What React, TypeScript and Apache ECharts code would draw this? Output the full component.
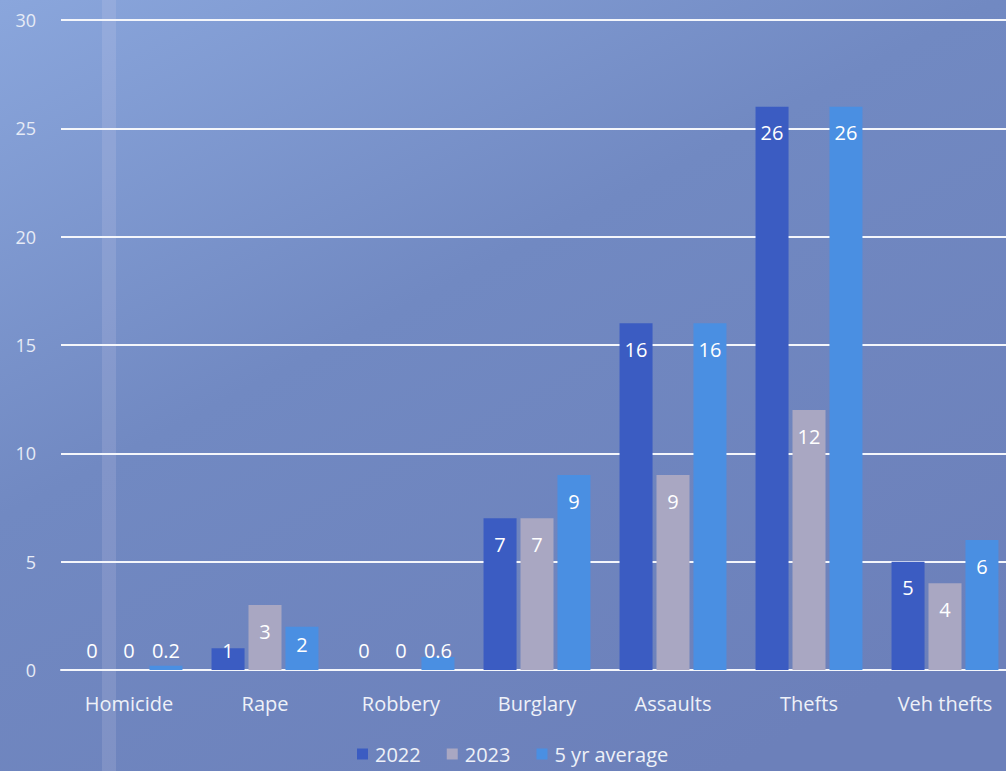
import React, { useEffect, useRef } from "react";
import * as echarts from "echarts";

const categories = ["Homicide", "Rape", "Robbery", "Burglary", "Assaults", "Thefts", "Veh thefts"];
const values2022 = [0, 1, 0, 7, 16, 26, 5];
const values2023 = [0, 3, 0, 7, 9, 12, 4];
const valuesAvg = [0.2, 2, 0.6, 9, 16, 26, 6];
const seriesNames = ["2022", "2023", "5 yr average"];
const seriesColors = ["#3b5cc2", "#a9a7c2", "#4a8fe2"];

const FONT = "'Open Sans', 'Noto Sans', sans-serif";

function makeData(vals: number[]) {
  return vals.map((v) => ({
    value: v,
    label: v < 1.5
      ? { position: "insideBottom", distance: 10 }
      : { position: "insideTop", distance: v < 2.5 ? 8 : 16 },
  }));
}

export default function App() {
  const ref = useRef<HTMLDivElement>(null);
  useEffect(() => {
    if (!ref.current) return;
    const chart = echarts.init(ref.current, undefined, { renderer: "svg" });
    const all = [values2022, values2023, valuesAvg];
    chart.setOption({
      animation: false,
      backgroundColor: {
        type: "linear",
        x: 0, y: 0, x2: 0.7, y2: 1,
        colorStops: [
          { offset: 0, color: "#8aa6dc" },
          { offset: 0.45, color: "#7189c2" },
          { offset: 1, color: "#6c80ba" },
        ],
      },
      graphic: [
        {
          type: "rect",
          shape: { x: 102, y: 0, width: 14, height: 771 },
          style: { fill: "rgba(230,220,240,0.15)" },
          silent: true,
          z: -1,
        },
      ],
      grid: { left: 61, top: 20, width: 952, height: 650, containLabel: false },
      legend: {
        left: 352,
        top: 739,
        itemWidth: 11,
        itemHeight: 11,
        itemGap: 26,
        icon: "rect",
        textStyle: { color: "#eef1f8", fontSize: 20, fontFamily: FONT, padding: [0, 0, 0, 2] },
        data: seriesNames,
      },
      xAxis: {
        type: "category",
        data: categories,
        axisLine: { show: true, lineStyle: { color: "#f4f6fb", width: 2 } },
        axisTick: { show: false },
        axisLabel: { color: "#eef1f8", fontSize: 20, fontFamily: FONT, margin: 23 },
      },
      yAxis: {
        type: "value",
        min: 0,
        max: 30,
        interval: 5,
        axisLine: { show: false },
        axisTick: { show: false },
        axisLabel: { color: "#e6ebf6", fontSize: 18, fontFamily: FONT, margin: 25 },
        splitLine: { lineStyle: { color: "#f4f6fb", width: 2 } },
      },
      series: seriesNames.map((name, i) => ({
        name,
        type: "bar",
        barWidth: 33,
        barGap: "12%",
        data: makeData(all[i]),
        itemStyle: { color: seriesColors[i] },
        z: 3,
        label: {
          show: true,
          color: "#ffffff",
          fontSize: 20,
          fontFamily: FONT,
        },
      })),
    });
    return () => chart.dispose();
  }, []);
  return (
    <div style={{ position: "fixed", left: 0, top: 0, width: 1006, height: 771, overflow: "hidden" }}>
      <div ref={ref} style={{ width: 1040, height: 771 }} />
    </div>
  );
}
